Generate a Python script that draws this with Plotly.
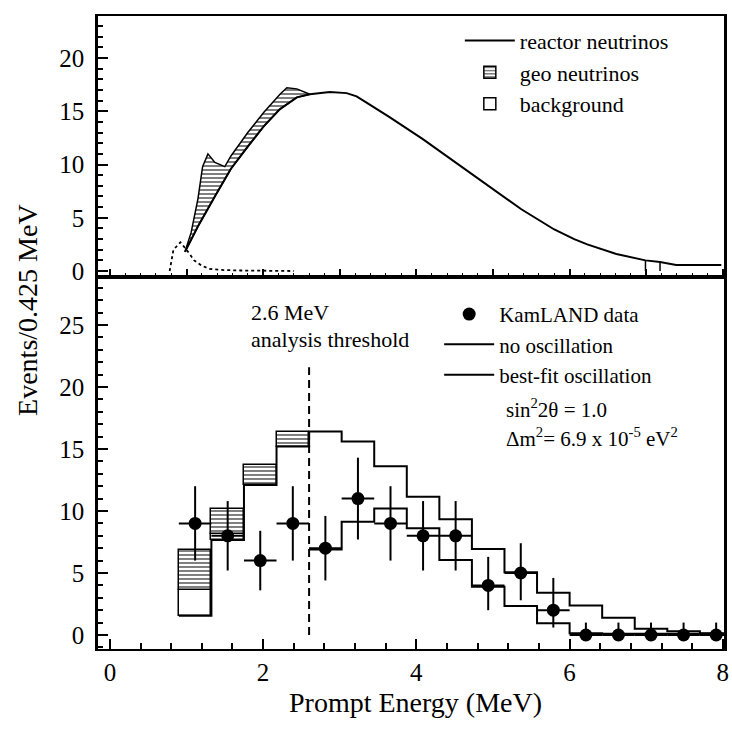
import plotly.graph_objects as go

FONT = "Liberation Serif"

# ---------------- upper panel: expected spectra ----------------
# reactor antineutrino curve (events / 0.425 MeV)
reactor_E = [0.98, 1.15, 1.37, 1.58, 1.80, 2.01, 2.22, 2.44, 2.61, 2.87, 3.09, 3.22,
             3.35, 3.64, 4.08, 4.51, 4.93, 5.37, 5.80, 6.06, 6.23, 6.61, 6.99, 7.18,
             7.39, 7.98]
reactor_N = [1.8, 4.2, 7.0, 9.6, 11.7, 13.6, 15.2, 16.3, 16.6, 16.8, 16.7, 16.4,
             15.8, 14.5, 12.4, 10.2, 8.0, 5.8, 3.9, 3.0, 2.5, 1.6, 1.0, 0.85,
             0.56, 0.56]
# bin edges visible in the tail of the curve
tail_E = [6.99, 7.18]
tail_N = [1.0, 0.85]

# reactor + geo-neutrino envelope
geo_E = [0.98, 1.06, 1.15, 1.21, 1.28, 1.37, 1.50, 1.58, 1.80, 2.01, 2.22, 2.31,
         2.44, 2.53, 2.61]
geo_top = [1.8, 3.6, 6.8, 9.8, 11.0, 10.2, 9.8, 10.8, 13.0, 14.9, 16.6, 17.2,
           17.1, 16.8, 16.6]

# accidental background
bkg_E = [0.78, 0.83, 0.92, 1.00, 1.10, 1.20, 1.30, 1.45, 1.70, 2.40]
bkg_N = [0.0, 2.0, 2.7, 2.0, 1.0, 0.5, 0.2, 0.1, 0.05, 0.0]

# ---------------- lower panel: prompt energy spectrum ----------------
bin_edges = [0.900, 1.325, 1.750, 2.175, 2.600, 3.025, 3.450, 3.875, 4.300,
             4.725, 5.150, 5.575, 6.000, 6.425, 6.850, 7.275, 7.700, 8.125]
data_counts = [9, 8, 6, 9, 7, 11, 9, 8, 8, 4, 5, 2, 0, 0, 0, 0, 0]
err_up = [3.0, 2.8, 2.4, 3.0, 2.6, 3.3, 3.0, 2.8, 2.8, 2.3, 2.4, 2.6, 1.0, 1.0, 1.0, 1.0, 1.0]
err_dn = [3.0, 2.8, 2.4, 3.0, 2.6, 3.3, 3.0, 2.8, 2.8, 2.0, 2.2, 1.4, 0.0, 0.0, 0.0, 0.0, 0.0]

# expected without oscillation (reactor part below threshold)
no_osc = [1.56, 7.66, 12.1, 15.2, 16.4, 15.6, 13.6, 11.15, 9.33, 6.94, 5.06,
          3.41, 2.38, 1.40, 0.50, 0.30, 0.15]
# contributions stacked on top of the first four bins
bkg_low = [2.1, 0.5, 0.0, 0.0]
geo_low = [3.2, 2.0, 1.6, 1.2]
# best-fit oscillation, from the 2.6 MeV threshold upward
best_fit = [6.9, 9.14, 10.2, 8.6, 6.05, 3.9, 2.34, 0.94, 0.15, 0.1, 0.1, 0.1, 0.1]

threshold = 2.6
threshold_top = 21.6

centers = [(a + b) / 2 for a, b in zip(bin_edges[:-1], bin_edges[1:])]
half_w = [(b - a) / 2 for a, b in zip(bin_edges[:-1], bin_edges[1:])]
widths = [2 * h for h in half_w]

fig = go.Figure()

# ---- upper panel traces ----
low_E = [e for e in reactor_E if e <= geo_E[-1]]
low_N = reactor_N[:len(low_E)]
fig.add_trace(go.Scatter(
    x=geo_E + low_E[::-1], y=geo_top + low_N[::-1],
    xaxis="x2", yaxis="y2", mode="lines", fill="toself",
    fillcolor="white",
    fillpattern=dict(shape="-", fgcolor="black", bgcolor="white", size=4, solidity=0.5),
    line=dict(color="black", width=1.5), showlegend=False, hoverinfo="skip"))
fig.add_trace(go.Scatter(
    x=bkg_E, y=bkg_N, xaxis="x2", yaxis="y2", mode="lines",
    line=dict(color="black", width=1.8, dash="dot"), showlegend=False))
fig.add_trace(go.Scatter(
    x=reactor_E, y=reactor_N, xaxis="x2", yaxis="y2", mode="lines",
    line=dict(color="black", width=2), name="reactor neutrinos",
    legend="legend", legendrank=1))
tx, ty = [], []
for e, n in zip(tail_E, tail_N):
    tx += [e, e, None]
    ty += [n, 0, None]
fig.add_trace(go.Scatter(x=tx, y=ty, xaxis="x2", yaxis="y2", mode="lines",
                         line=dict(color="black", width=1.5), showlegend=False))

# ---- lower panel traces ----
nb = len(bkg_low)
fig.add_trace(go.Bar(
    x=centers[:nb], y=bkg_low, base=no_osc[:nb], width=widths[:nb],
    marker=dict(color="white", line=dict(color="black", width=1.5)),
    name="background", legend="legend", legendrank=3))
fig.add_trace(go.Bar(
    x=centers[:nb], y=geo_low,
    base=[r + b for r, b in zip(no_osc[:nb], bkg_low)], width=widths[:nb],
    marker=dict(color="white", line=dict(color="black", width=1.5),
                pattern=dict(shape="-", fgcolor="black", bgcolor="white",
                             size=4, solidity=0.5)),
    name="geo neutrinos", legend="legend", legendrank=2))

fig.add_trace(go.Scatter(
    x=bin_edges, y=no_osc + [no_osc[-1]], mode="lines", line_shape="hv",
    line=dict(color="black", width=2), name="no oscillation",
    legend="legend2", legendrank=2))
fig.add_trace(go.Scatter(
    x=bin_edges[4:], y=best_fit + [best_fit[-1]], mode="lines", line_shape="hv",
    line=dict(color="black", width=2), name="best-fit oscillation",
    legend="legend2", legendrank=3))
fig.add_trace(go.Scatter(
    x=[threshold, threshold], y=[0, threshold_top], mode="lines",
    line=dict(color="black", width=2, dash="8px,5px"), showlegend=False))
fig.add_trace(go.Scatter(
    x=centers, y=data_counts, mode="markers",
    marker=dict(color="black", size=13),
    error_y=dict(type="data", array=err_up, arrayminus=err_dn, symmetric=False,
                 color="black", thickness=2, width=0),
    error_x=dict(type="data", array=half_w, color="black", thickness=2, width=0),
    name="KamLAND data", legend="legend2", legendrank=1))

axis_font = dict(family=FONT, size=25, color="black")
common = dict(showgrid=False, zeroline=False, showline=True, linecolor="black",
              mirror=True, ticks="inside", tickcolor="black", tickfont=axis_font)

split = 0.5877
fig.update_layout(
    width=732, height=731,
    margin=dict(l=98, r=3, t=16, b=82),
    paper_bgcolor="white", plot_bgcolor="white",
    font=dict(family=FONT, color="black"),
    barmode="overlay", bargap=0,
    xaxis=dict(domain=[0, 1], anchor="y", range=[-0.155, 8.015],
               tickvals=[0, 2, 4, 6, 8], ticklen=10, tickwidth=2, linewidth=2,
               ticklabelstandoff=0,
               minor=dict(dtick=0.4, tick0=0, ticks="inside", ticklen=6,
                          tickwidth=1.5, tickcolor="black"),
               **common),
    yaxis=dict(domain=[0, split], anchor="x", range=[-1.13, 28.87],
               tickvals=[0, 5, 10, 15, 20, 25], ticklen=10, tickwidth=2,
               linewidth=2.5, ticklabelstandoff=6,
               minor=dict(dtick=1, tick0=0, ticks="inside", ticklen=5,
                          tickwidth=1.5, tickcolor="black"),
               **common),
    xaxis2=dict(domain=[0, 1], anchor="y2", matches="x", showticklabels=False,
                ticklen=8, tickwidth=1.5, linewidth=2,
                minor=dict(dtick=0.2, tick0=0, ticks="inside", ticklen=4,
                           tickwidth=1, tickcolor="black"),
                **common),
    yaxis2=dict(domain=[split, 1], anchor="x2", range=[-0.56, 23.94],
                tickvals=[0, 5, 10, 15, 20], ticklen=10, tickwidth=2,
                linewidth=2.5, ticklabelstandoff=6,
                minor=dict(dtick=1, tick0=0, ticks="inside", ticklen=5,
                           tickwidth=1.5, tickcolor="black"),
                **common),
    legend=dict(x=0.578, y=0.994, xanchor="left", yanchor="top",
                bgcolor="rgba(0,0,0,0)", itemwidth=50, tracegroupgap=0,
                font=dict(family=FONT, size=22, color="black")),
    legend2=dict(x=0.545, y=0.561, xanchor="left", yanchor="top",
                 bgcolor="rgba(0,0,0,0)", itemwidth=50, tracegroupgap=0,
                 font=dict(family=FONT, size=21, color="black")),
    annotations=[
        dict(text="Events/0.425 MeV", textangle=-90, xref="paper", yref="paper",
             x=-0.1125, y=0.535, xanchor="center", yanchor="middle",
             showarrow=False, font=dict(family=FONT, size=28, color="black")),
        dict(text="Prompt Energy (MeV)", xref="paper", yref="paper",
             x=0.507, y=-0.084, xanchor="center", yanchor="middle",
             showarrow=False, font=dict(family=FONT, size=28, color="black")),
        dict(text="2.6 MeV", xref="x", yref="y", x=1.81, y=26.0,
             xanchor="left", yanchor="middle", showarrow=False,
             font=dict(family=FONT, size=22, color="black")),
        dict(text="analysis threshold", xref="x", yref="y", x=1.81, y=23.8,
             xanchor="left", yanchor="middle", showarrow=False,
             font=dict(family=FONT, size=22, color="black")),
        dict(text="sin<sup>2</sup>2θ = 1.0", xref="x", yref="y", x=5.14, y=18.3,
             xanchor="left", yanchor="middle", showarrow=False,
             font=dict(family=FONT, size=21, color="black")),
        dict(text="Δm<sup>2</sup>= 6.9 x 10<sup>-5</sup> eV<sup>2</sup>",
             xref="x", yref="y", x=5.14, y=15.9,
             xanchor="left", yanchor="middle", showarrow=False,
             font=dict(family=FONT, size=21, color="black")),
    ],
)

fig.write_html("out.html")
